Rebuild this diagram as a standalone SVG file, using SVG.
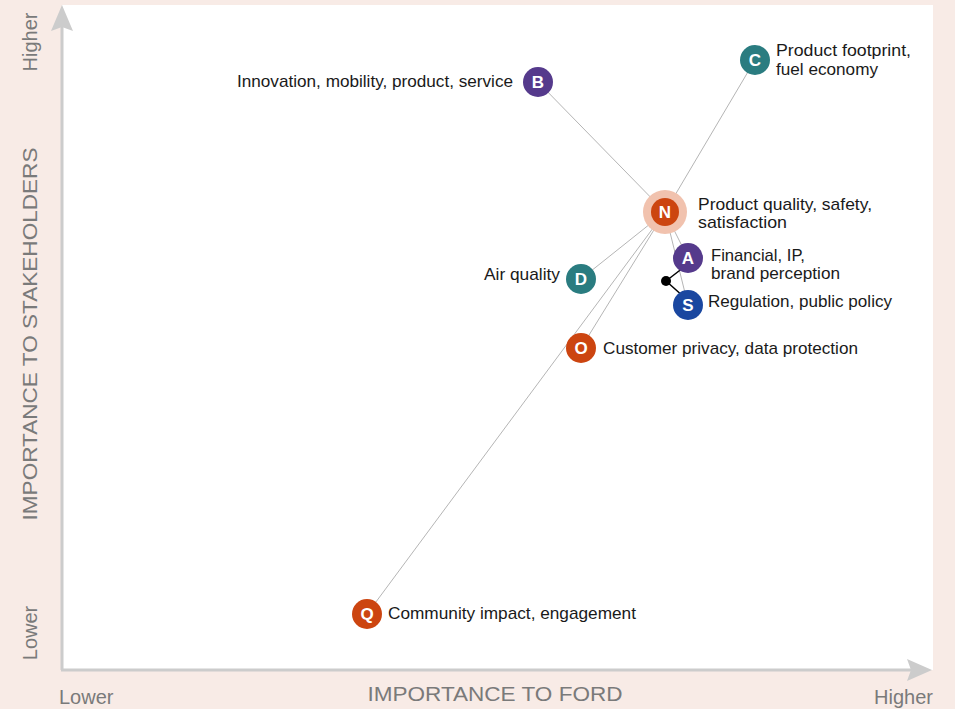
<svg xmlns="http://www.w3.org/2000/svg" width="955" height="709" viewBox="0 0 955 709">
<style>
.lbl{font-family:"Liberation Sans",Arial,sans-serif;font-size:17px;fill:#1a1a1a}
.ax{font-family:"Liberation Sans",Arial,sans-serif;font-size:20px;fill:#7a7a7a}
.let{font-family:"Liberation Sans",Arial,sans-serif;font-size:17px;font-weight:bold;fill:#fff;text-anchor:middle}
.con{stroke:#b5b5b5;stroke-width:1;fill:none}
.purple{fill:#553a8c}.teal{fill:#2a7c80}.orange{fill:#cc4510}.blue{fill:#1a47a0}
</style>
<rect width="955" height="709" fill="#f8ebe6"/>
<rect x="62" y="5" width="871" height="665" fill="#fff"/>
<g id="axes" fill="#cccccc" stroke="#cccccc">
<line x1="62" y1="25" x2="62" y2="670" stroke-width="3"/>
<line x1="61" y1="670" x2="912" y2="670" stroke-width="3"/>
<polygon points="62,5 73,31 62,27 51,31" stroke="none"/>
<polygon points="932,670 907,659 911,670 907,681" stroke="none"/>
</g>
<text class="ax" transform="translate(37,334) rotate(-90)" text-anchor="middle" textLength="373" lengthAdjust="spacingAndGlyphs">IMPORTANCE TO STAKEHOLDERS</text>
<text class="ax" transform="translate(37,42) rotate(-90)" text-anchor="middle" font-size="19">Higher</text>
<text class="ax" transform="translate(37,633) rotate(-90)" text-anchor="middle" font-size="19">Lower</text>
<text class="ax" x="495" y="701" text-anchor="middle" textLength="255" lengthAdjust="spacingAndGlyphs">IMPORTANCE TO FORD</text>
<text class="ax" x="59" y="704" font-size="19">Lower</text>
<text class="ax" x="933" y="704" font-size="19" text-anchor="end">Higher</text>
<g id="connectors">
<line class="con" x1="665" y1="212" x2="538" y2="82"/>
<line class="con" x1="665" y1="212" x2="755" y2="60"/>
<line class="con" x1="665" y1="212" x2="581" y2="279"/>
<line class="con" x1="665" y1="212" x2="581" y2="348"/>
<line class="con" x1="665" y1="212" x2="367" y2="614"/>
<line class="con" x1="665" y1="212" x2="688" y2="258"/>
<line class="con" x1="665" y1="212" x2="688" y2="305"/>
<line x1="666" y1="281" x2="688" y2="264" stroke="#000" stroke-width="1.5"/>
<line x1="666" y1="281" x2="684" y2="297" stroke="#000" stroke-width="1.5"/>
<circle cx="666" cy="281" r="5" fill="#000"/>
</g>
<g id="node-B"><circle cx="538" cy="82" r="15" class="purple"/><text class="let" x="538" y="88">B</text>
<text class="lbl" x="513" y="87" text-anchor="end" textLength="276" lengthAdjust="spacingAndGlyphs">Innovation, mobility, product, service</text></g>
<g id="node-C"><circle cx="755" cy="60" r="15" class="teal"/><text class="let" x="755" y="66">C</text>
<text class="lbl" x="776" y="56" textLength="135" lengthAdjust="spacingAndGlyphs">Product footprint,</text>
<text class="lbl" x="776" y="75" textLength="102" lengthAdjust="spacingAndGlyphs">fuel economy</text></g>
<g id="node-N"><circle cx="665" cy="212" r="22" fill="#f1c2ae"/><circle cx="665" cy="212" r="14" class="orange"/><text class="let" x="665" y="218">N</text>
<text class="lbl" x="698" y="210" textLength="174" lengthAdjust="spacingAndGlyphs">Product quality, safety,</text>
<text class="lbl" x="698" y="228" textLength="89" lengthAdjust="spacingAndGlyphs">satisfaction</text></g>
<g id="node-A"><circle cx="688" cy="258" r="15" class="purple"/><text class="let" x="688" y="264">A</text>
<text class="lbl" x="711" y="261" textLength="94" lengthAdjust="spacingAndGlyphs">Financial, IP,</text>
<text class="lbl" x="711" y="279" textLength="129" lengthAdjust="spacingAndGlyphs">brand perception</text></g>
<g id="node-S"><circle cx="688" cy="305" r="15" class="blue"/><text class="let" x="688" y="311">S</text>
<text class="lbl" x="708" y="307" textLength="184" lengthAdjust="spacingAndGlyphs">Regulation, public policy</text></g>
<g id="node-D"><circle cx="581" cy="279" r="15" class="teal"/><text class="let" x="581" y="285">D</text>
<text class="lbl" x="560" y="280" text-anchor="end" textLength="76" lengthAdjust="spacingAndGlyphs">Air quality</text></g>
<g id="node-O"><circle cx="581" cy="348" r="15" class="orange"/><text class="let" x="581" y="354">O</text>
<text class="lbl" x="603" y="354" textLength="255" lengthAdjust="spacingAndGlyphs">Customer privacy, data protection</text></g>
<g id="node-Q"><circle cx="367" cy="614" r="15" class="orange"/><text class="let" x="367" y="620">Q</text>
<text class="lbl" x="388" y="619" textLength="248" lengthAdjust="spacingAndGlyphs">Community impact, engagement</text></g>
</svg>
